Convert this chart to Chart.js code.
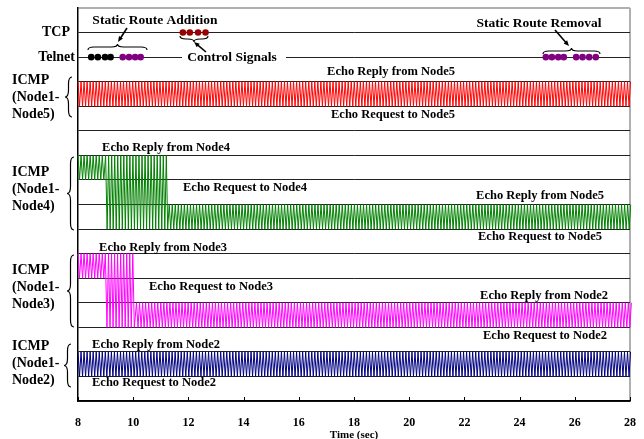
<!DOCTYPE html>
<html>
<head>
<meta charset="utf-8">
<script src="https://cdn.jsdelivr.net/npm/chart.js@4"></script>
<style>
  html, body { margin: 0; padding: 0; background: #fff; }
</style>
</head>
<body>
<canvas id="chart" width="644" height="439"></canvas>
<script>
const xTicks = [8, 10, 12, 14, 16, 18, 20, 22, 24, 26, 28];

// signal phases: [start sec, end sec, upper level, lower level]
const node5Phases = [[8.0, 28.15, 13, 12]];
const node4Phases = [[8.0, 9.0, 10, 9], [9.0, 11.25, 10, 7], [11.25, 28.15, 8, 7]];
const node3Phases = [[8.0, 9.05, 6, 5], [9.05, 10.12, 6, 3], [10.12, 28.15, 4, 3]];
const node2Phases = [[8.0, 28.15, 2, 1]];
const pingStep = 0.055; // spacing of request/reply strokes

const tcpLevel = 15;
const telnetLevel = 14;
const tcpDots = [11.8, 12.05, 12.35, 12.62];
const telnetBlackDots = [8.48, 8.72, 8.98, 9.18];
const telnetAddDots = [9.62, 9.85, 10.07, 10.27];
const telnetRemoveDots = [24.95, 25.17, 25.4, 25.6, 26.05, 26.28, 26.52, 26.76];

const FONT = '"Liberation Serif", "Times New Roman", serif';

function zigzag(phases) {
  const pts = [];
  let up = true;
  phases.forEach(([t0, t1, hi, lo], i) => {
    const n = Math.round((t1 - t0) / pingStep);
    const last = i === phases.length - 1;
    for (let k = 0; k < n + (last ? 1 : 0); k++) {
      pts.push({ x: t0 + k * pingStep, y: up ? hi : lo });
      up = !up;
    }
  });
  return pts;
}

function signal(phases, color) {
  return {
    type: 'line', data: zigzag(phases), borderColor: color, borderWidth: 1,
    pointRadius: 0, tension: 0, fill: false, clip: 6
  };
}

function dots(times, level, color) {
  return {
    type: 'scatter', data: times.map(t => ({ x: t, y: level })),
    pointRadius: 3.3, pointBackgroundColor: color, pointBorderWidth: 0, showLine: false
  };
}

function vBrace(ctx, x, y0, y1, w) {
  const ym = (y0 + y1) / 2, xb = x + w / 2;
  ctx.beginPath();
  ctx.moveTo(x + w, y0);
  ctx.quadraticCurveTo(xb, y0, xb, y0 + w);
  ctx.lineTo(xb, ym - w);
  ctx.quadraticCurveTo(xb, ym, x, ym);
  ctx.quadraticCurveTo(xb, ym, xb, ym + w);
  ctx.lineTo(xb, y1 - w);
  ctx.quadraticCurveTo(xb, y1, x + w, y1);
  ctx.stroke();
}

function hBrace(ctx, x0, x1, yTip, h) {
  const xm = (x0 + x1) / 2, yb = yTip + h / 2, ye = yTip + h, r = Math.abs(h);
  ctx.beginPath();
  ctx.moveTo(x0, ye);
  ctx.quadraticCurveTo(x0, yb, x0 + r, yb);
  ctx.lineTo(xm - r, yb);
  ctx.quadraticCurveTo(xm, yb, xm, yTip);
  ctx.quadraticCurveTo(xm, yb, xm + r, yb);
  ctx.lineTo(x1 - r, yb);
  ctx.quadraticCurveTo(x1, yb, x1, ye);
  ctx.stroke();
}

function arrow(ctx, x0, y0, x1, y1) {
  const a = Math.atan2(y1 - y0, x1 - x0), L = 6;
  ctx.beginPath();
  ctx.moveTo(x0, y0);
  ctx.lineTo(x1 - Math.cos(a) * 3, y1 - Math.sin(a) * 3);
  ctx.stroke();
  ctx.beginPath();
  ctx.moveTo(x1, y1);
  ctx.lineTo(x1 - L * Math.cos(a - 0.4), y1 - L * Math.sin(a - 0.4));
  ctx.lineTo(x1 - L * Math.cos(a + 0.4), y1 - L * Math.sin(a + 0.4));
  ctx.closePath();
  ctx.fill();
}

const annotations = {
  id: 'annotations',
  afterDraw(chart) {
    const ctx = chart.ctx;
    const area = chart.chartArea;
    const xs = chart.scales.x;
    ctx.save();

    // inner tick marks on the time axis
    ctx.strokeStyle = '#000';
    ctx.lineWidth = 1;
    xTicks.forEach(v => {
      const px = Math.round(xs.getPixelForValue(v)) + 0.5;
      ctx.beginPath();
      ctx.moveTo(px, area.bottom);
      ctx.lineTo(px, area.bottom - 4);
      ctx.stroke();
    });

    ctx.fillStyle = '#000';
    ctx.textBaseline = 'middle';

    // control signals label sits on the Telnet line
    ctx.font = 'bold 13.5px ' + FONT;
    ctx.fillStyle = '#fff';
    ctx.fillRect(182, 50, 104, 14);
    ctx.fillStyle = '#000';
    ctx.textAlign = 'center';
    ctx.fillText('Control Signals', 232, 58);
    ctx.fillText('Static Route Addition', 155, 21);
    ctx.fillText('Static Route Removal', 539, 24);

    // row labels
    ctx.font = 'bold 14px ' + FONT;
    ctx.textAlign = 'right';
    ctx.fillText('TCP', 70, 32);
    ctx.fillText('Telnet', 75, 57);
    ctx.textAlign = 'left';
    [[80, 'Node5)'], [172, 'Node4)'], [270, 'Node3)'], [346, 'Node2)']].forEach(([y, last]) => {
      ctx.fillText('ICMP', 12, y);
      ctx.fillText('(Node1-', 12, y + 17);
      ctx.fillText(last, 12, y + 34);
    });

    // echo labels
    ctx.font = 'bold 12.5px ' + FONT;
    ctx.textAlign = 'center';
    [
      ['Echo Reply from Node5', 391, 72], ['Echo Request to Node5', 393, 115],
      ['Echo Reply from Node4', 166, 148], ['Echo Request to Node4', 245, 188],
      ['Echo Reply from Node5', 540, 196], ['Echo Request to Node5', 540, 237],
      ['Echo Reply from Node3', 163, 248], ['Echo Request to Node3', 211, 287],
      ['Echo Reply from Node2', 544, 296], ['Echo Request to Node2', 545, 336],
      ['Echo Reply from Node2', 156, 345], ['Echo Request to Node2', 154, 383]
    ].forEach(([t, x, y]) => ctx.fillText(t, x, y));

    // braces and arrows
    ctx.strokeStyle = '#000';
    ctx.lineWidth = 1.2;
    vBrace(ctx, 65, 77, 117, 7);
    vBrace(ctx, 67, 157, 230, 7);
    vBrace(ctx, 67, 255, 327, 7);
    vBrace(ctx, 64, 344, 387, 7);
    hBrace(ctx, 88, 147, 44, 6);
    hBrace(ctx, 180, 208, 42, -6);
    hBrace(ctx, 543, 600, 48, 6);
    ctx.lineWidth = 1.6;
    arrow(ctx, 127, 28, 118, 42);
    arrow(ctx, 206, 52, 194, 42);
    arrow(ctx, 555, 30, 569, 46);

    ctx.restore();
  }
};

new Chart(document.getElementById('chart'), {
  data: {
    datasets: [
      signal(node5Phases, '#ff0000'),
      signal(node4Phases, '#008000'),
      signal(node3Phases, '#ff00ff'),
      signal(node2Phases, '#000080'),
      dots(tcpDots, tcpLevel, '#990000'),
      dots(telnetBlackDots, telnetLevel, '#000000'),
      dots(telnetAddDots, telnetLevel, '#800080'),
      dots(telnetRemoveDots, telnetLevel, '#800080')
    ]
  },
  options: {
    responsive: false,
    animation: false,
    layout: { padding: { left: 78, right: 14, top: 8, bottom: 0 } },
    plugins: { legend: { display: false }, tooltip: { enabled: false } },
    scales: {
      x: {
        type: 'linear', min: 8, max: 28,
        afterBuildTicks: s => { s.ticks = xTicks.map(v => ({ value: v })); },
        afterFit: s => { s.height = 38; s.paddingLeft = 0; s.paddingRight = 0; },
        ticks: { padding: 15, color: '#000', maxRotation: 0, font: { family: FONT, size: 12, weight: 'bold' } },
        grid: { drawTicks: false, lineWidth: 2, color: c => (c.tick && c.tick.value === 28 ? '#b0b0b0' : 'transparent') },
        border: { color: '#000', width: 1.5 },
        title: { display: true, text: 'Time (sec)', color: '#000', padding: { top: 0, bottom: -3 }, font: { family: FONT, size: 11, weight: 'bold' } }
      },
      y: {
        min: 0, max: 16,
        afterFit: s => { s.width = 0; },
        ticks: { display: false, stepSize: 1 },
        grid: {
          drawTicks: false,
          color: c => (c.tick && c.tick.value === 16 ? '#b0b0b0' : '#222'),
          lineWidth: c => (c.tick && c.tick.value === 16 ? 2 : 1)
        },
        border: { color: '#000', width: 1.5 }
      }
    }
  },
  plugins: [annotations]
});
</script>
</body>
</html>
